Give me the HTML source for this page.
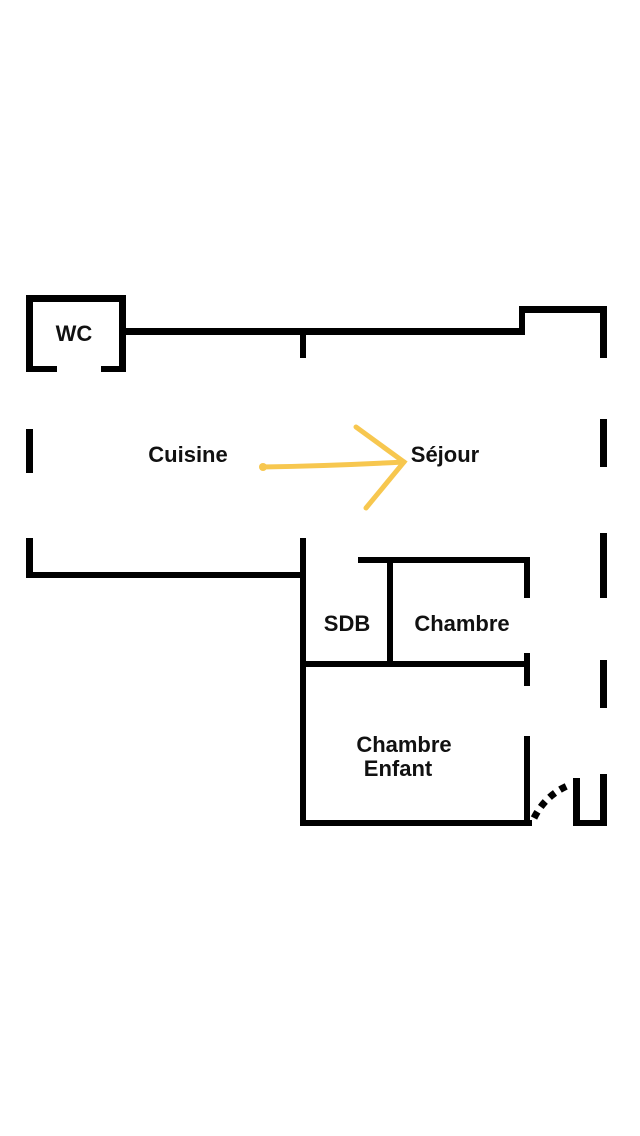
<!DOCTYPE html>
<html><head><meta charset="utf-8"><style>
html,body{margin:0;padding:0;background:#fff;}
svg{display:block}
text{font-family:"Liberation Sans",sans-serif;font-weight:bold;font-size:22px;fill:#111;}
</style></head><body>
<svg width="640" height="1136" viewBox="0 0 640 1136">
<g fill="#000">
<rect x="26" y="295" width="100" height="7"/>
<rect x="26" y="295" width="7" height="77"/>
<rect x="119" y="295" width="7" height="77"/>
<rect x="26" y="366" width="31" height="6"/>
<rect x="101" y="366" width="25" height="6"/>
<rect x="126" y="328" width="399" height="7"/>
<rect x="300" y="328" width="6" height="30"/>
<rect x="519" y="306" width="6" height="29"/>
<rect x="519" y="306" width="88" height="7"/>
<rect x="600" y="306" width="7" height="52"/>
<rect x="600" y="419" width="7" height="48"/>
<rect x="600" y="533" width="7" height="65"/>
<rect x="600" y="660" width="7" height="48"/>
<rect x="26" y="429" width="7" height="44"/>
<rect x="26" y="538" width="7" height="40"/>
<rect x="26" y="572" width="280" height="6"/>
<rect x="300" y="538" width="6" height="288"/>
<rect x="300" y="820" width="232" height="6"/>
<rect x="358" y="557" width="172" height="6"/>
<rect x="524" y="557" width="6" height="41"/>
<rect x="387" y="557" width="6" height="110"/>
<rect x="306" y="661" width="224" height="6"/>
<rect x="524" y="653" width="6" height="33"/>
<rect x="524" y="736" width="6" height="90"/>
<rect x="573" y="778" width="7" height="48"/>
<rect x="573" y="820" width="34" height="6"/>
<rect x="600" y="774" width="7" height="52"/>
</g>
<path d="M534 818 Q545 796 567 786" fill="none" stroke="#000" stroke-width="7" stroke-dasharray="7 6"/>
<g stroke="#f7c74f" stroke-width="5" stroke-linecap="round" fill="none">
<path d="M262 467 Q330 466 404 462"/>
<path d="M356 427 L404 462 L366 508"/>
</g>
<circle cx="263" cy="467" r="4" fill="#f7c74f"/>
<text x="74" y="341" text-anchor="middle">WC</text>
<text x="188" y="462" text-anchor="middle">Cuisine</text>
<text x="445" y="462" text-anchor="middle">Séjour</text>
<text x="347" y="631" text-anchor="middle">SDB</text>
<text x="462" y="631" text-anchor="middle">Chambre</text>
<text x="404" y="752" text-anchor="middle">Chambre</text>
<text x="398" y="776" text-anchor="middle">Enfant</text>
</svg>
</body></html>
